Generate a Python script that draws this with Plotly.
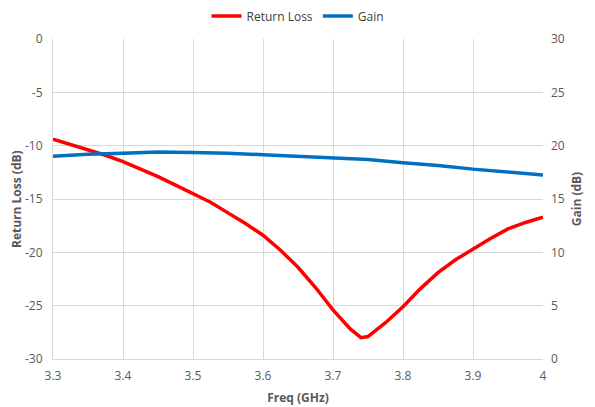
import plotly.graph_objects as go

freq_rl = [3.300, 3.325, 3.350, 3.375, 3.400, 3.425, 3.450, 3.475, 3.500, 3.525,
           3.550, 3.575, 3.600, 3.625, 3.650, 3.675, 3.700, 3.725, 3.740, 3.750,
           3.775, 3.800, 3.825, 3.850, 3.875, 3.900, 3.925, 3.950, 3.975, 4.000]
return_loss = [-9.4, -9.9, -10.4, -10.9, -11.5, -12.2, -12.9, -13.7, -14.5, -15.3,
               -16.3, -17.3, -18.4, -19.8, -21.4, -23.3, -25.4, -27.2, -28.0, -27.9,
               -26.6, -25.1, -23.4, -21.9, -20.7, -19.7, -18.7, -17.8, -17.2, -16.7]

freq_gain = [3.30, 3.35, 3.40, 3.45, 3.50, 3.55, 3.60, 3.65, 3.70, 3.75,
             3.80, 3.85, 3.90, 3.95, 4.00]
gain = [19.0, 19.2, 19.3, 19.4, 19.35, 19.3, 19.15, 19.0, 18.85, 18.7,
        18.4, 18.15, 17.8, 17.55, 17.25]

x_ticks = [3.3, 3.4, 3.5, 3.6, 3.7, 3.8, 3.9, 4.0]
x_tick_labels = ["3.3", "3.4", "3.5", "3.6", "3.7", "3.8", "3.9", "4"]
rl_ticks = [0, -5, -10, -15, -20, -25, -30]
rl_tick_labels = ["0", "-5", "-10", "-15", "-20", "-25", "-30"]
gain_ticks = [0, 5, 10, 15, 20, 25, 30]

font_family = "'Open Sans', Lato, sans-serif"
grey = "#595959"
grid = "#d9d9d9"

fig = go.Figure()
fig.add_trace(go.Scatter(x=freq_rl, y=return_loss, name="Return Loss", mode="lines",
                         line=dict(color="#ff0000", width=3.5), yaxis="y"))
fig.add_trace(go.Scatter(x=freq_gain, y=gain, name="Gain", mode="lines",
                         line=dict(color="#0070c0", width=3.5), yaxis="y2"))

fig.update_layout(
    width=595, height=407,
    margin=dict(l=53, r=52, t=39, b=48, autoexpand=False),
    paper_bgcolor="white", plot_bgcolor="white",
    font=dict(family=font_family, size=12, color=grey),
    showlegend=True,
    legend=dict(orientation="h", x=0.5, xanchor="center", y=1 - 16 / 407, yanchor="middle",
                yref="container", font=dict(size=12, color="#404040"),
                itemwidth=30, tracegroupgap=0),
    xaxis=dict(range=[3.3, 4.0], tickvals=x_ticks, ticktext=x_tick_labels,
               showgrid=True, gridcolor=grid, zeroline=False, automargin=False,
               showline=True, linecolor=grid, ticks="", ticklabelstandoff=6,
               title=dict(text="<b>Freq (GHz)</b>", font=dict(size=12, color=grey), standoff=10),
               tickfont=dict(size=12, color=grey)),
    yaxis=dict(range=[-30, 0], tickvals=rl_ticks, ticktext=rl_tick_labels,
               showgrid=True, gridcolor=grid, zeroline=False, automargin=False,
               showline=True, linecolor=grid, ticks="", ticklabelstandoff=7,
               tickfont=dict(size=12, color=grey)),
    yaxis2=dict(range=[0, 30], tickvals=gain_ticks, overlaying="y", side="right", showgrid=False,
                zeroline=False, showline=False, ticks="", automargin=False, ticklabelstandoff=7,
                title=dict(text="<b>Gain (dB)</b>", font=dict(size=12, color=grey), standoff=8),
                tickfont=dict(size=12, color=grey)),
    annotations=[dict(text="<b>Return Loss (dB)</b>", textangle=-90, showarrow=False,
                      xref="paper", yref="paper", x=(16 - 53) / 490, y=0.5,
                      xanchor="center", yanchor="middle",
                      font=dict(size=12, color=grey, family=font_family))],
)

fig.write_html("out.html", config={"displayModeBar": False},
               post_script="document.body.style.margin='0px';")
